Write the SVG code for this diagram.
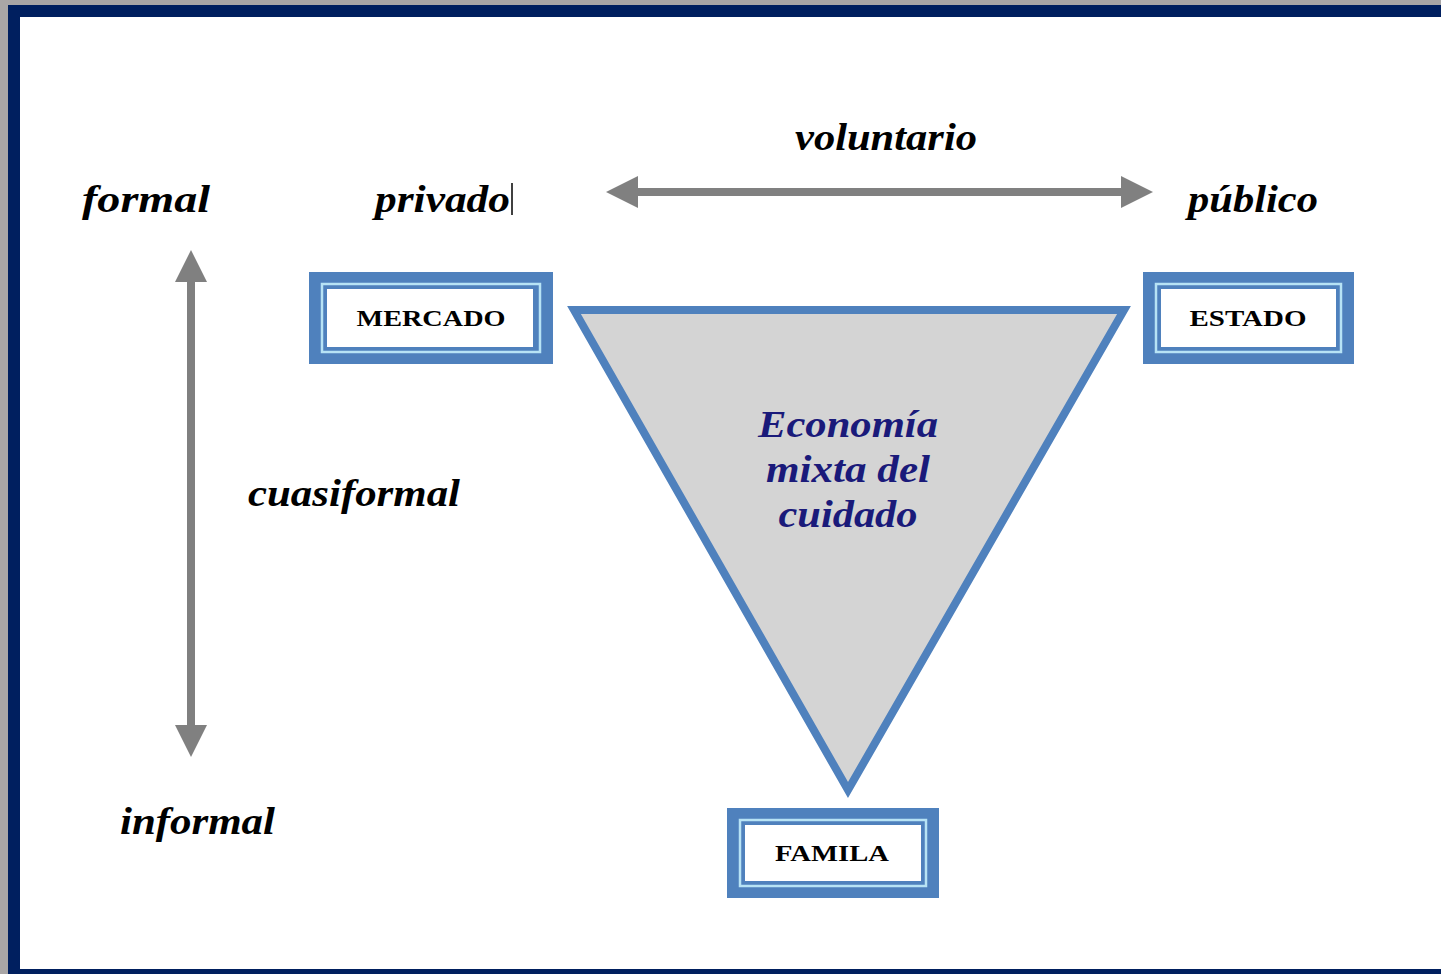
<svg xmlns="http://www.w3.org/2000/svg" width="1441" height="974" viewBox="0 0 1441 974">
<defs>
<style>
.lbl{font-family:"Liberation Serif","Times New Roman",serif;font-style:italic;font-weight:bold;font-size:37px;fill:#000}
.box{font-family:"Liberation Serif","Times New Roman",serif;font-weight:bold;font-size:24px;fill:#000;text-anchor:middle}
.eco{font-family:"Liberation Serif","Times New Roman",serif;font-style:italic;font-weight:bold;font-size:38px;fill:#1a1a7a;text-anchor:middle}
.outer{fill:#4f81bd}
.light{fill:none;stroke:#b7e3f5;stroke-width:2.5}
.inner{fill:#fff}
</style>
<marker id="ah" viewBox="0 0 10 10" refX="5" refY="5" markerWidth="4" markerHeight="4" orient="auto-start-reverse" markerUnits="strokeWidth">
<path d="M0,0 L10,5 L0,10 z" fill="#808080"/>
</marker>
</defs>
<rect x="0" y="0" width="1441" height="974" fill="#a9a6a6"/>
<rect x="8" y="5" width="1433" height="969" fill="#001f5f"/>
<rect x="20" y="17" width="1421" height="952" fill="#fff"/>

<g id="connectors">
<line x1="622" y1="192" x2="1137" y2="192" stroke="#808080" stroke-width="8" marker-start="url(#ah)" marker-end="url(#ah)"/>
<line x1="191" y1="266" x2="191" y2="741" stroke="#808080" stroke-width="8" marker-start="url(#ah)" marker-end="url(#ah)"/>
</g>

<g id="triangle">
<polygon points="574,310 1124,310 848,790" fill="#d4d4d4" stroke="#4f81bd" stroke-width="8" stroke-linejoin="miter"/>
<text class="eco" x="848" y="437" textLength="180" lengthAdjust="spacingAndGlyphs">Economía</text>
<text class="eco" x="848" y="482" textLength="164" lengthAdjust="spacingAndGlyphs">mixta del</text>
<text class="eco" x="848" y="527" textLength="139" lengthAdjust="spacingAndGlyphs">cuidado</text>
</g>

<g id="mercado">
<rect class="outer" x="309" y="272" width="244" height="92"/>
<rect class="light" x="322" y="284" width="218" height="68"/>
<rect class="inner" x="327" y="289" width="206" height="58"/>
<text class="box" x="431" y="326" textLength="149" lengthAdjust="spacingAndGlyphs">MERCADO</text>
</g>

<g id="estado">
<rect class="outer" x="1143" y="272" width="211" height="92"/>
<rect class="light" x="1156" y="284" width="185" height="68"/>
<rect class="inner" x="1161" y="289" width="175" height="58"/>
<text class="box" x="1248" y="326" textLength="117" lengthAdjust="spacingAndGlyphs">ESTADO</text>
</g>

<g id="familia">
<rect class="outer" x="727" y="808" width="212" height="90"/>
<rect class="light" x="740" y="820" width="186" height="66"/>
<rect class="inner" x="745" y="825" width="176" height="56"/>
<text class="box" x="832" y="861" textLength="114" lengthAdjust="spacingAndGlyphs">FAMILA</text>
</g>

<g id="labels">
<text class="lbl" x="795" y="150" textLength="182" lengthAdjust="spacingAndGlyphs">voluntario</text>
<text class="lbl" x="82" y="212" textLength="128" lengthAdjust="spacingAndGlyphs">formal</text>
<text class="lbl" x="375" y="212" textLength="135" lengthAdjust="spacingAndGlyphs">privado</text>
<line x1="512" y1="183" x2="512" y2="215" stroke="#000" stroke-width="1.5"/>
<text class="lbl" x="1188" y="212" textLength="130" lengthAdjust="spacingAndGlyphs">público</text>
<text class="lbl" x="248" y="506" textLength="212" lengthAdjust="spacingAndGlyphs">cuasiformal</text>
<text class="lbl" x="120" y="834" textLength="155" lengthAdjust="spacingAndGlyphs">informal</text>
</g>
</svg>
